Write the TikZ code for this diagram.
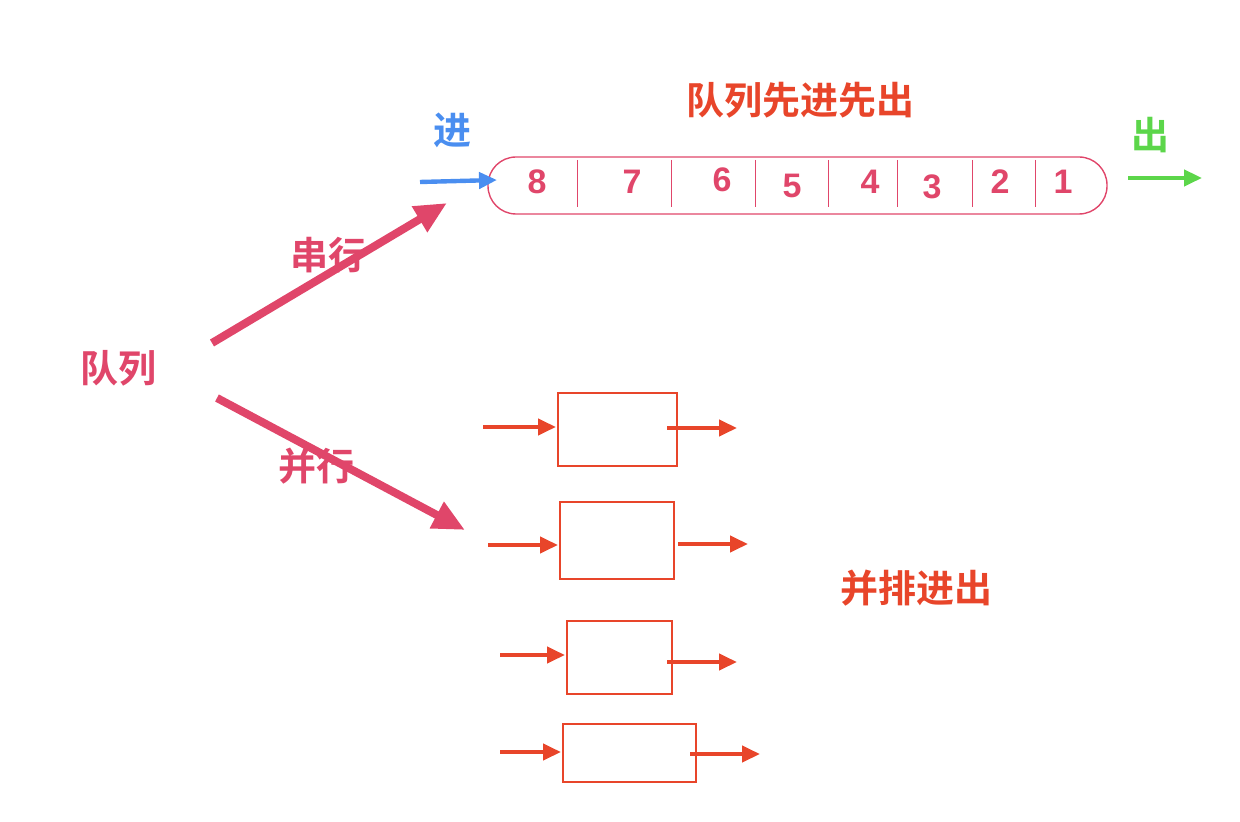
\documentclass[tikz,border=0pt]{standalone}
\usepackage{fontspec}
\newfontfamily\cjk{Noto Sans CJK SC Bold}
\setmainfont{Liberation Sans}
\usetikzlibrary{arrows.meta}
\definecolor{pk}{HTML}{E0466A}
\definecolor{rd}{HTML}{E8452A}
\definecolor{bl}{HTML}{4A8EF0}
\definecolor{gr}{HTML}{5CD64A}
\tikzset{
 lbl/.style={font=\cjk\fontsize{19}{22}\selectfont},
 num/.style={font=\bfseries\fontsize{17}{20}\selectfont,text=pk},
 arr/.style={line width=2.2pt,-{Triangle[length=9pt,width=8pt]}},
 bigarr/.style={line width=4pt,draw=pk,-{Triangle[length=16pt,width=14pt]}},
 box/.style={draw=rd,line width=0.6pt,inner sep=0pt},
 dv/.style={draw=pk,line width=0.5pt}
}
\begin{document}
\begin{tikzpicture}[x=0.5pt,y=-0.5pt]
\useasboundingbox (0,0) rectangle (1240,822);
\node[lbl,text=rd] (title) at (800,100) {队列先进先出};
\node[lbl,text=bl] (jin) at (452,130) {进};
\node[draw=pk,line width=0.7pt,rounded corners=14pt,minimum width=309.5pt,minimum height=28.5pt] (q) at (797.5,185.5) {};
\coordinate (inS) at (420,182); \coordinate (inE) at (497,180);
\draw[arr,draw=bl,fill=bl] (inS) -- (inE);
\foreach \n/\x/\y in {8/537/182,7/632/182,6/722/180,5/792/186,4/870/182,3/932/187,2/1000/182,1/1063/182}
  \node[num] (n\n) at (\x,\y) {\n};
\foreach \x in {577,671,755,828,897,972,1035}
  \draw[dv] (\x,160) -- (\x,207);
\node[lbl,text=gr] (chu) at (1150,135) {出};
\coordinate (oS) at (1128,178); \coordinate (oE) at (1202,178);
\draw[arr,draw=gr,fill=gr] (oS) -- (oE);
\node[lbl,text=pk] (dl) at (118,368) {队列};
\coordinate (a1s) at (212,343); \coordinate (a1e) at (447,203);
\draw[bigarr,fill=pk] (a1s) -- (a1e);
\node[lbl,text=pk] (cx) at (328,255) {串行};
\coordinate (a2s) at (217,398); \coordinate (a2e) at (465,530);
\draw[bigarr,fill=pk] (a2s) -- (a2e);
\node[lbl,text=pk] (bx) at (316,466) {并行};
\node[lbl,text=rd] (bp) at (916,588) {并排进出};
\foreach \i/\a/\b/\c/\d/\ls/\ly/\rs/\ry in {
 1/558/393/677/466/483/427/667/428,
 2/560/502/674/579/488/545/678/544,
 3/567/621/672/694/500/655/667/662,
 4/563/724/696/782/500/752/690/754}{
 \draw[rd,line width=0.6pt] (\a,\b) rectangle (\c,\d);
 \coordinate (l\i) at (\ls,\ly);
 \coordinate (le\i) at (\a-2,\ly);
 \coordinate (r\i) at (\rs,\ry);
 \coordinate (re\i) at (\rs+70,\ry);
 \draw[arr,draw=rd,fill=rd] (l\i) -- (le\i);
 \draw[arr,draw=rd,fill=rd] (r\i) -- (re\i);
}
\end{tikzpicture}
\end{document}
